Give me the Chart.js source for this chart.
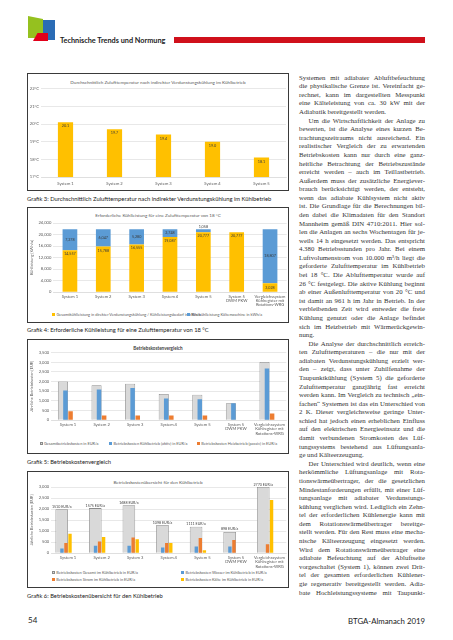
<!DOCTYPE html>
<html lang="de">
<head>
<meta charset="utf-8">
<script src="https://cdn.jsdelivr.net/npm/chart.js"></script>
<style>
html, body { margin: 0; padding: 0; background: #fff; }
body { width: 453px; height: 640px; position: relative; overflow: hidden; font-family: Lato, "Open Sans", sans-serif; color: #222; }
.abs { position: absolute; white-space: nowrap; }
.box { position: absolute; left: 27px; width: 262px; border: 1.3px solid #3a3a3a; box-sizing: border-box; }
.ctitle { position: absolute; left: 27px; width: 262px; text-align: center; font-size: 4.6px; line-height: 6px; color: #595959; white-space: nowrap; }
.cap { position: absolute; left: 27px; font-size: 5.8px; line-height: 7px; color: #1a1a1a; white-space: nowrap; }
canvas { position: absolute; }
.leg { position: absolute; font-size: 3.9px; line-height: 5px; color: #595959; white-space: nowrap; }
.leg i { display: inline-block; width: 3px; height: 3px; margin-right: 1.5px; vertical-align: 0; }
.col { position: absolute; left: 299px; top: 0; width: 126px; font-family: "Liberation Serif", "DejaVu Serif", serif; font-size: 6.8px; color: #333; }
.ln { position: absolute; left: 0; width: 126px; height: 8px; line-height: 8px; text-align: justify; text-align-last: justify; white-space: nowrap; transform-origin: left center; }
.ln.ind { left: 9.5px; width: 116.5px; }
.ln.end { text-align-last: left; }
</style>
</head>
<body>

<!-- Kopfzeile -->
<div class="abs" style="left:28px;top:16px;width:15px;height:22px;background:#95c11f;clip-path:polygon(0 0,100% 14%,100% 100%,0 100%);"></div>
<div class="abs" style="left:43px;top:20px;width:12px;height:20px;background:#2b6cb5;"></div>
<div class="abs" style="left:33px;top:33px;width:15px;height:8px;background:#e2001a;clip-path:polygon(30% 0,100% 0,100% 100%,0 100%);"></div>
<div class="abs" style="left:60px;top:36.3px;font-size:7.3px;line-height:9px;font-weight:bold;color:#222;">Technische Trends und Normung</div>
<div class="abs" style="left:174px;top:37.3px;width:251px;height:6px;background:#d0101b;"></div>

<!-- Grafik 3 -->
<div class="box" style="top:73px;height:118px;"></div>
<div class="ctitle" style="top:79px;">Durchschnittlich Zulufttemperatur nach indirekter Verdunstungskühlung im Kühlbetrieb</div>
<canvas id="c1" width="259" height="105" style="left:28px;top:84px;"></canvas>
<div class="cap" style="top:195.2px;">Grafik 3: Durchschnittlich Zulufttemperatur nach indirekter Verdunstungskühlung im Kühlbetrieb</div>

<!-- Grafik 4 -->
<div class="box" style="top:206.5px;height:116.5px;"></div>
<div class="ctitle" style="top:212px;">Erforderliche Kühlleistung für eine Zulufttemperatur von 18 °C</div>
<canvas id="c2" width="260" height="92" style="left:28px;top:218px;"></canvas>
<div id="leg2"></div>
<div class="cap" style="top:326px;">Grafik 4: Erforderliche Kühlleistung für eine Zulufttemperatur von 18 °C</div>

<!-- Grafik 5 -->
<div class="box" style="top:339px;height:115px;"></div>
<div class="ctitle" style="top:345px;font-weight:bold;color:#404040;">Betriebskostenvergleich</div>
<canvas id="c3" width="260" height="90" style="left:28px;top:347px;"></canvas>
<div id="leg3"></div>
<div class="cap" style="top:457.5px;">Grafik 5: Betriebskostenvergleich</div>

<!-- Grafik 6 -->
<div class="box" style="top:471px;height:117px;"></div>
<div class="ctitle" style="top:478.7px;">Betriebskostenübersicht für den Kühlbetrieb</div>
<canvas id="c4" width="260" height="94" style="left:28px;top:474px;"></canvas>
<div id="leg4"></div>
<div class="cap" style="top:591.5px;">Grafik 6: Betriebskostenübersicht für den Kühlbetrieb</div>

<!-- Textspalte -->
<div class="col" id="col"></div>

<!-- Fußzeile -->
<div class="abs" style="left:28px;top:615px;font-size:8px;line-height:10px;color:#222;">54</div>
<div class="abs" style="right:28px;top:616px;font-size:7.8px;line-height:10px;color:#222;">BTGA-Almanach 2019</div>

<script>
// Farben wie im Original (Office-Palette)
const YELLOW = '#ffc000';
const BLUE = '#5b9bd5';
const ORANGE = '#ed7d31';
const GREY = '#d9d9d9';
const GREY_BORDER = '#8a8a8a';
const TICK = '#595959';

// Grafik 3: Zulufttemperatur
const systems5 = ['System 1', 'System 2', 'System 3', 'System 4', 'System 5'];
const zuluftTemp = [20.1, 19.7, 19.4, 19.0, 18.1];

// Grafik 4: Kühlleistung
const systems7 = ['System 1', 'System 2', 'System 3', 'System 4', 'System 5',
    ['System 5', 'DWM PKW'], ['Vergleichssystem', 'Kühlregister mit', 'Rotations-WRG']];
const kuehlAdiabat = [14557, 15788, 16555, 19087, 20777, 20777, 3028];
const kuehlRest = [7278, 6047, 5280, 2748, 1058, 0, 18807];

// Grafik 5: Betriebskostenvergleich
const kostenGesamt = [2000, 1810, 1890, 1350, 1310, 870, 3020];
const kostenKuehl = [1540, 1580, 1660, 1120, 1080, 870, 2680];
const kostenHeiz = [460, 230, 230, 230, 230, 0, 340];

// Grafik 6: Betriebskosten Kühlbetrieb
const kuehlGesamt = [1990, 2040, 2170, 1270, 1190, 960, 3000];
const kuehlGesamtText = ['1510 EUR/a', '1575 EUR/a', '1688 EUR/a', '1098 EUR/a', '1111 EUR/a', '898 EUR/a', '2770 EUR/a'];
const kuehlWasser = [200, 330, 330, 250, 300, 300, 0];
const kuehlStrom = [460, 520, 700, 450, 680, 590, 400];
const kuehlKaelte = [870, 730, 620, 450, 130, 0, 2410];

Chart.defaults.font.family = 'Lato, "Open Sans", sans-serif';
Chart.defaults.font.size = 4.2;
Chart.defaults.color = TICK;
Chart.defaults.animation = false;
Chart.defaults.responsive = false;
Chart.defaults.plugins.legend.display = false;
Chart.defaults.plugins.tooltip.enabled = false;

const fmt = v => v.toLocaleString('en-US');

// Werte an die Balken schreiben
const barLabels = {
    id: 'barLabels',
    afterDatasetsDraw(chart) {
        const ctx = chart.ctx;
        ctx.save();
        chart.data.datasets.forEach((ds, di) => {
            const cfg = ds.valueLabel;
            if (!cfg) return;
            const meta = chart.getDatasetMeta(di);
            meta.data.forEach((bar, i) => {
                const v = ds.data[i];
                if (!v) return;
                const text = cfg.texts ? cfg.texts[i] : cfg.format(v);
                const top = Math.min(bar.y, bar.base);
                const bottom = Math.max(bar.y, bar.base);
                const h = bottom - top;
                let y = (top + bottom) / 2;
                let baseLine = 'middle';
                if (cfg.pos === 'above' || h < 6) {
                    y = top - 0.8;
                    baseLine = 'bottom';
                } else if (cfg.pos === 'end' && h > 14) {
                    y = top + 2;
                    baseLine = 'top';
                }
                ctx.font = (cfg.size || 4) + 'px Lato, "Open Sans", sans-serif';
                ctx.fillStyle = cfg.color || '#3a3a3a';
                ctx.textAlign = 'center';
                ctx.textBaseline = baseLine;
                ctx.fillText(text, bar.x, y);
            });
        });
        ctx.restore();
    }
};

function yScale(min, max, step, width, cb, title) {
    return {
        min: min, max: max,
        ticks: { stepSize: step, padding: 2, callback: cb, font: { size: 4.1 } },
        grid: { color: '#d9d9d9', lineWidth: 0.6, drawTicks: false },
        border: { display: false },
        title: title ? { display: true, text: title, padding: 1.5, font: { size: 3.8 } } : { display: false },
        afterFit: s => { s.width = width; }
    };
}

function xScale(height, pad) {
    return {
        ticks: { padding: pad, font: { size: 4.1, lineHeight: 1.0 }, maxRotation: 0, autoSkip: false },
        grid: { display: false, drawTicks: false },
        border: { display: true, color: '#d9d9d9', width: 0.6 },
        afterFit: s => { s.height = height; }
    };
}

// Grafik 3
new Chart(document.getElementById('c1'), {
    type: 'bar',
    data: {
        labels: systems5,
        datasets: [{
            data: zuluftTemp,
            backgroundColor: YELLOW,
            barPercentage: 1, categoryPercentage: 0.31,
            valueLabel: { pos: 'end', format: v => v.toFixed(1), size: 3.8 }
        }]
    },
    options: {
        layout: { padding: { top: 4.7, right: 1, left: 0, bottom: 0 } },
        scales: {
            x: xScale(12, 4.5),
            y: yScale(17, 22, 1, 13, v => v + '°C')
        }
    },
    plugins: [barLabels]
});

// Grafik 4
new Chart(document.getElementById('c2'), {
    type: 'bar',
    data: {
        labels: systems7,
        datasets: [
            {
                label: 'Gesamtkühlleistung in direkter Verdunstungskühlung / Kühlleistungsbedarf in kWh/a',
                data: kuehlAdiabat, backgroundColor: YELLOW,
                barPercentage: 0.9, categoryPercentage: 0.49,
                valueLabel: { pos: 'end', format: fmt, size: 3.7 }
            },
            {
                label: 'Restkühlleistung Kältemaschine in kWh/a',
                data: kuehlRest, backgroundColor: BLUE,
                barPercentage: 0.9, categoryPercentage: 0.49,
                valueLabel: { pos: 'center', format: fmt, size: 3.7 }
            }
        ]
    },
    options: {
        layout: { padding: { top: 5, right: 0.25, left: 0, bottom: 0 } },
        scales: {
            x: Object.assign(xScale(18, 2.5), { stacked: true }),
            y: Object.assign(yScale(0, 24000, 2000, 25.25, v => fmt(v), 'Kühlleistung [kWh/a]'), { stacked: true })
        }
    },
    plugins: [barLabels]
});

// Grafik 5
new Chart(document.getElementById('c3'), {
    type: 'bar',
    data: {
        labels: systems7,
        datasets: [
            {
                label: 'Gesamtbetriebskosten in EUR/a',
                data: kostenGesamt, backgroundColor: GREY, borderColor: GREY_BORDER,
                borderWidth: { top: 0.8, left: 0.8, right: 0.8, bottom: 0 },
                xAxisID: 'x2', order: 2,
                barPercentage: 1, categoryPercentage: 0.6
            },
            {
                label: 'Betriebskosten Kühlbetrieb (aktiv) in EUR/a',
                data: kostenKuehl, backgroundColor: BLUE, order: 1,
                barPercentage: 0.88, categoryPercentage: 0.61
            },
            {
                label: 'Betriebskosten Heizbetrieb (passiv) in EUR/a',
                data: kostenHeiz, backgroundColor: ORANGE, order: 1,
                barPercentage: 0.88, categoryPercentage: 0.61
            }
        ]
    },
    options: {
        layout: { padding: { top: 5.7, right: 0.2, left: 0, bottom: 0 } },
        scales: {
            x: xScale(17, 3),
            x2: { type: 'category', display: false, offset: true },
            y: yScale(0, 3500, 500, 23.2, v => fmt(v), 'Jährliche Betriebskosten [EUR]')
        }
    }
});

// Grafik 6
new Chart(document.getElementById('c4'), {
    type: 'bar',
    data: {
        labels: systems7,
        datasets: [
            {
                label: 'Betriebskosten Gesamt im Kühlbetrieb in EUR/a',
                data: kuehlGesamt, backgroundColor: GREY, borderColor: GREY_BORDER,
                borderWidth: { top: 0.8, left: 0.8, right: 0.8, bottom: 0 },
                xAxisID: 'x2', order: 2,
                barPercentage: 1, categoryPercentage: 0.75,
                valueLabel: { pos: 'above', texts: kuehlGesamtText, size: 3.6, color: '#404040' }
            },
            {
                label: 'Betriebskosten Wasser im Kühlbetrieb in EUR/a',
                data: kuehlWasser, backgroundColor: BLUE, order: 1,
                barPercentage: 0.84, categoryPercentage: 0.72
            },
            {
                label: 'Betriebskosten Strom im Kühlbetrieb in EUR/a',
                data: kuehlStrom, backgroundColor: ORANGE, order: 1,
                barPercentage: 0.84, categoryPercentage: 0.72
            },
            {
                label: 'Betriebskosten Kälte im Kühlbetrieb in EUR/a',
                data: kuehlKaelte, backgroundColor: YELLOW, order: 1,
                barPercentage: 0.84, categoryPercentage: 0.72
            }
        ]
    },
    options: {
        layout: { padding: { top: 13, right: 0.2, left: 0, bottom: 0 } },
        scales: {
            x: xScale(15, 3),
            x2: { type: 'category', display: false, offset: true },
            y: yScale(0, 3000, 500, 23.2, v => fmt(v), 'Jährliche Betriebskosten [EUR]')
        }
    },
    plugins: [barLabels]
});

// HTML-Legenden
function legendItem(parent, x, cy, text, color, border) {
    const d = document.createElement('div');
    d.className = 'leg';
    d.style.left = x + 'px';
    d.style.top = (cy - 2.5) + 'px';
    const sq = border ? `background:${color};border:0.5px solid ${border};box-sizing:border-box;` : `background:${color};`;
    d.innerHTML = `<i style="${sq}"></i>${text}`;
    parent.appendChild(d);
}
const leg2 = document.getElementById('leg2');
legendItem(leg2, 52, 314, 'Gesamtkühlleistung in direkter Verdunstungskühlung / Kühlleistungsbedarf in kWh/a', YELLOW);
legendItem(leg2, 187, 314, 'Restkühlleistung Kältemaschine in kWh/a', BLUE);
const leg3 = document.getElementById('leg3');
legendItem(leg3, 39.5, 443.3, 'Gesamtbetriebskosten in EUR/a', GREY, GREY_BORDER);
legendItem(leg3, 109, 443.3, 'Betriebskosten Kühlbetrieb (aktiv) in EUR/a', BLUE);
legendItem(leg3, 196.7, 443.3, 'Betriebskosten Heizbetrieb (passiv) in EUR/a', ORANGE);
const leg4 = document.getElementById('leg4');
legendItem(leg4, 51.7, 572.7, 'Betriebskosten Gesamt im Kühlbetrieb in EUR/a', GREY, GREY_BORDER);
legendItem(leg4, 181, 572.7, 'Betriebskosten Wasser im Kühlbetrieb in EUR/a', BLUE);
legendItem(leg4, 51.7, 579.2, 'Betriebskosten Strom im Kühlbetrieb in EUR/a', ORANGE);
legendItem(leg4, 181, 579.2, 'Betriebskosten Kälte im Kühlbetrieb in EUR/a', YELLOW);

// Fließtext, zeilengenau
const textLines = [
    'Systemen mit adiabater Abluftbefeuchtung',
    'die physikalische Grenze ist. Vereinfacht ge-',
    'rechnet, kann im dargestellten Messpunkt',
    'eine Kälteleistung von ca. 30 kW mit der',
    '$Adiabatik bereitgestellt werden.',
    '>Um die Wirtschaftlichkeit der Anlage zu',
    'bewerten, ist die Analyse eines kurzen Be-',
    'trachtungszeitraums nicht ausreichend. Ein',
    'realistischer Vergleich der zu erwartenden',
    'Betriebskosten kann nur durch eine ganz-',
    'heitliche Betrachtung der Betriebszustände',
    'erreicht werden – auch im Teillastbetrieb.',
    'Außerdem muss der zusätzliche Energiever-',
    'brauch berücksichtigt werden, der entsteht,',
    'wenn das adiabate Kühlsystem nicht aktiv',
    'ist. Die Grundlage für die Berechnungen bil-',
    'den dabei die Klimadaten für den Standort',
    'Mannheim gemäß DIN 4710:2011. Hier sol-',
    'len die Anlagen an sechs Wochentagen für je-',
    'weils 14 h eingesetzt werden. Das entspricht',
    '4.380 Betriebsstunden pro Jahr. Bei einem',
    'Luftvolumenstrom von 10.000 m³/h liegt die',
    'geforderte Zulufttemperatur im Kühlbetrieb',
    'bei 18 °C. Die Ablufttemperatur wurde auf',
    '26 °C festgelegt. Die aktive Kühlung beginnt',
    'ab einer Außenlufttemperatur von 20 °C und',
    'ist damit an 961 h im Jahr in Betrieb. In der',
    'verbleibenden Zeit wird entweder die freie',
    'Kühlung genutzt oder die Anlage befindet',
    'sich im Heizbetrieb mit Wärmerückgewin-',
    '$nung.',
    '>Die Analyse der durchschnittlich erreich-',
    'ten Zulufttemperaturen – die nur mit der',
    'adiabaten Verdunstungskühlung erzielt wer-',
    'den – zeigt, dass unter Zuhilfenahme der',
    'Taupunktkühlung (System 5) die geforderte',
    'Zulufttemperatur ganzjährig fast erreicht',
    'werden kann. Im Vergleich zu technisch „ein-',
    'fachen“ Systemen ist das ein Unterschied von',
    '2 K. Dieser vergleichsweise geringe Unter-',
    'schied hat jedoch einen erheblichen Einfluss',
    'auf den elektrischen Energieeinsatz und die',
    'damit verbundenen Stromkosten des Lüf-',
    'tungssystems bestehend aus Lüftungsanla-',
    '$ge und Kälteerzeugung.',
    '>Der Unterschied wird deutlich, wenn eine',
    'herkömmliche Lüftungsanlage mit Rota-',
    'tionswärmeübertrager, der die gesetzlichen',
    'Mindestanforderungen erfüllt, mit einer Lüf-',
    'tungsanlage mit adiabater Verdunstungs-',
    'kühlung verglichen wird. Lediglich ein Zehn-',
    'tel der erforderlichen Kühlenergie kann mit',
    'dem Rotationswärmeübertrager bereitge-',
    'stellt werden. Für den Rest muss eine mecha-',
    'nische Kälteerzeugung eingesetzt werden.',
    'Wird dem Rotationswärmeübertrager eine',
    'adiabate Befeuchtung auf der Abluftseite',
    'vorgeschaltet (System 1), können zwei Drit-',
    'tel der gesamten erforderlichen Kühlener-',
    'gie regenerativ bereitgestellt werden. Adia-',
    'bate Hochleistungssysteme mit Taupunkt-'
];
const col = document.getElementById('col');
textLines.forEach((t, i) => {
    const d = document.createElement('div');
    d.className = 'ln';
    if (t[0] === '>') { d.classList.add('ind'); t = t.slice(1); }
    if (t[0] === '$') { d.classList.add('end'); t = t.slice(1); }
    d.textContent = t;
    d.style.top = (77.7 + i * 8.58 - 4) + 'px';
    col.appendChild(d);
    if (d.scrollWidth > d.clientWidth + 0.5) {
        d.style.transform = `scaleX(${d.clientWidth / d.scrollWidth})`;
        d.style.width = d.scrollWidth + 'px';
    }
});
</script>
</body>
</html>
